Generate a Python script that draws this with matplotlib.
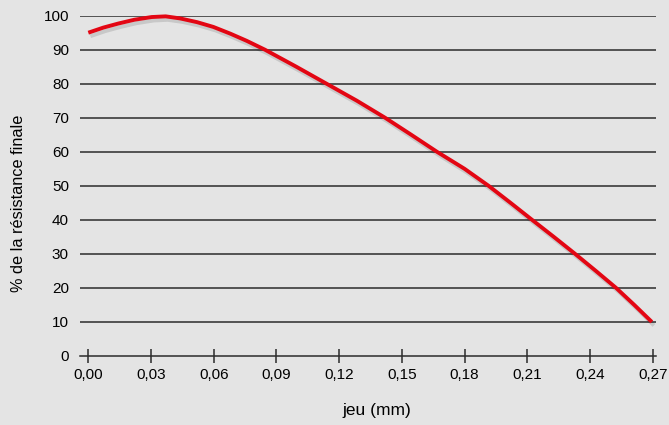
import matplotlib
matplotlib.use("Agg")
import matplotlib.pyplot as plt
import matplotlib.patheffects as pe

jeu = [0.0, 0.0072, 0.0144, 0.022, 0.0303, 0.037, 0.0439, 0.052, 0.0598, 0.068,
       0.0758, 0.0845, 0.0995, 0.114, 0.1285, 0.142, 0.1545, 0.1668, 0.18, 0.1915,
       0.202, 0.2123, 0.2227, 0.2329, 0.2428, 0.2525, 0.2612, 0.2696]
resistance = [95.0, 96.5, 97.7, 98.8, 99.6, 99.8, 99.2, 98.1, 96.7, 94.7,
              92.6, 90.0, 85.0, 80.0, 75.0, 70.0, 65.0, 60.0, 55.0, 50.0,
              45.0, 40.0, 35.0, 30.0, 25.0, 20.0, 15.0, 10.0]
xticks = [0.00, 0.03, 0.06, 0.09, 0.12, 0.15, 0.18, 0.21, 0.24, 0.27]
yticks = [0, 10, 20, 30, 40, 50, 60, 70, 80, 90, 100]

bg = "#e4e4e4"
red = "#e30613"
plt.rcParams["font.family"] = ["Liberation Sans", "DejaVu Sans"]

fig = plt.figure(figsize=(6.69, 4.25), dpi=100, facecolor=bg)
ax = fig.add_axes([0.1196, 0.1624, 0.8610, 0.8007], facecolor=bg)

ax.set_xlim(-0.00397, 0.2716)
ax.set_ylim(0, 100)

# horizontal rules
for v in yticks[1:]:
    ax.axhline(v, color="#2b2b2b", lw=1.1, zorder=1)

ax.plot(jeu, resistance, color=red, lw=2.8, solid_capstyle="butt", solid_joinstyle="round",
        clip_on=False, zorder=3,
        path_effects=[pe.SimpleLineShadow(offset=(1.5, -2.5), shadow_color="#000000", alpha=0.12),
                      pe.Normal()])

for s in ["top", "right", "left"]:
    ax.spines[s].set_visible(False)
ax.spines["bottom"].set_color("#2b2b2b")
ax.spines["bottom"].set_linewidth(1.1)

ax.set_xticks(xticks)
ax.set_xticklabels([f"{t:.2f}".replace(".", ",") for t in xticks])
ax.set_yticks(yticks)
ax.tick_params(axis="x", direction="inout", length=10, width=1.1, color="#2b2b2b",
               labelsize=11, pad=4)
ax.tick_params(axis="y", length=0, labelsize=11, pad=8)

ax.set_xlabel("jeu (mm)", fontsize=12.5, va="center", ha="center")
ax.xaxis.set_label_coords(0.515, -0.159)
ax.set_ylabel("% de la résistance finale", fontsize=11.7, va="center", ha="center")
ax.yaxis.set_label_coords(-0.1076, 0.45)

fig.savefig("out.png", dpi=100, facecolor=bg)
